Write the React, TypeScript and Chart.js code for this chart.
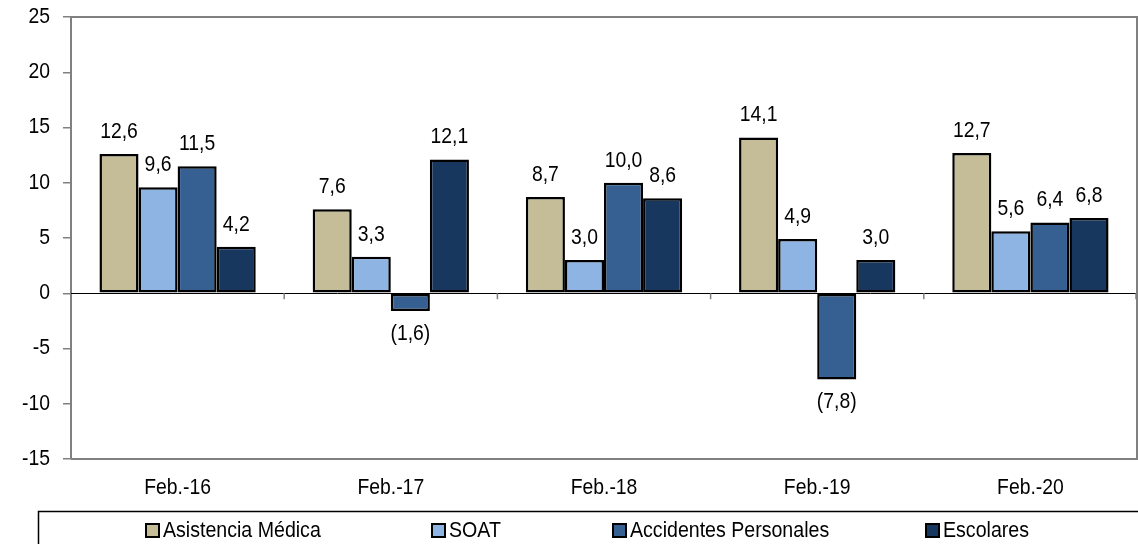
import React, { useEffect, useRef } from "react";
import { Chart, registerables } from "chart.js";

Chart.register(...registerables);

const categories = ["Feb.-16", "Feb.-17", "Feb.-18", "Feb.-19", "Feb.-20"];
const asistenciaMedica = [12.6, 7.6, 8.7, 14.1, 12.7];
const soat = [9.6, 3.3, 3.0, 4.9, 5.6];
const accidentesPersonales = [11.5, -1.6, 10.0, -7.8, 6.4];
const escolares = [4.2, 12.1, 8.6, 3.0, 6.8];
const seriesNames = ["Asistencia Médica", "SOAT", "Accidentes Personales", "Escolares"];
const seriesColors = ["#C4BD97", "#8DB4E2", "#366092", "#17375E"];
const yMin = -15;
const yMax = 25;
const yStep = 5;

const FONT = "'Liberation Sans', Arial, sans-serif";
const FSIZE = 21.5;
const SX = 0.9;

const fmt = (v: number) => {
  const s = Math.abs(v).toFixed(1).replace(".", ",");
  return v < 0 ? `(${s})` : s;
};

function drawText(ctx: any, text: string, x: number, y: number, align: string, size = FSIZE, sx = SX) {
  ctx.save();
  ctx.font = `${size}px ${FONT}`;
  ctx.textAlign = align;
  ctx.textBaseline = "middle";
  ctx.fillStyle = "#000";
  ctx.translate(x, y);
  ctx.scale(sx, 1);
  ctx.fillText(text, 0, 0);
  ctx.restore();
}

const framePlugin = {
  id: "frame",
  beforeDatasetsDraw(chart: any) {
    const { ctx, chartArea, scales } = chart;
    const y0 = scales.y.getPixelForValue(0);
    ctx.save();
    ctx.strokeStyle = "#000";
    ctx.lineWidth = 1;
    ctx.beginPath();
    ctx.moveTo(chartArea.left, Math.round(y0) + 0.5);
    ctx.lineTo(chartArea.right, Math.round(y0) + 0.5);
    ctx.stroke();
    const xs = scales.x;
    const n = categories.length;
    ctx.strokeStyle = "#808080";
    ctx.lineWidth = 1.5;
    for (let i = 1; i <= n; i++) {
      let bx: number;
      if (i === n) bx = chartArea.right - 1;
      else bx = (xs.getPixelForValue(i - 1) + xs.getPixelForValue(i)) / 2;
      ctx.beginPath();
      ctx.moveTo(bx, y0);
      ctx.lineTo(bx, y0 + 6);
      ctx.stroke();
    }
    ctx.restore();
  },
  afterDraw(chart: any) {
    const { ctx, chartArea, scales } = chart;
    ctx.save();
    ctx.strokeStyle = "#808080";
    ctx.lineWidth = 2;
    ctx.beginPath();
    ctx.moveTo(chartArea.left, chartArea.top);
    ctx.lineTo(chartArea.right, chartArea.top);
    ctx.lineTo(chartArea.right, chartArea.bottom);
    ctx.lineTo(chartArea.left, chartArea.bottom);
    ctx.stroke();
    ctx.restore();

    scales.y.ticks.forEach((t: any) => {
      drawText(ctx, String(t.value), 50, scales.y.getPixelForValue(t.value), "right");
    });
    categories.forEach((c, i) => {
      drawText(ctx, c, scales.x.getPixelForValue(i), 488, "center");
    });

    chart.data.datasets.forEach((ds: any, di: number) => {
      const meta = chart.getDatasetMeta(di);
      meta.data.forEach((bar: any, i: number) => {
        const v = ds.data[i];
        const y = v >= 0 ? bar.y - 22 : bar.y + 23;
        drawText(ctx, fmt(v), bar.x, y, "center");
      });
    });

    ctx.save();
    ctx.strokeStyle = "#000";
    ctx.lineWidth = 1.5;
    ctx.strokeRect(38.5, 511.5, 1120, 60);
    const starts = [146, 432, 613, 926];
    seriesNames.forEach((name, i) => {
      const x = starts[i];
      ctx.fillStyle = seriesColors[i];
      ctx.fillRect(x, 524, 13, 13);
      ctx.strokeStyle = "#000";
      ctx.lineWidth = 2;
      ctx.strokeRect(x, 524, 13, 13);
      drawText(ctx, name, x + 17, 531, "left", 22, 0.89);
    });
    ctx.restore();
  },
};

export default function App() {
  const ref = useRef<HTMLCanvasElement>(null);
  useEffect(() => {
    document.body.style.margin = "0";
    const seriesData = [asistenciaMedica, soat, accidentesPersonales, escolares];
    const chart = new Chart(ref.current!, {
      type: "bar",
      data: {
        labels: categories,
        datasets: seriesNames.map((name, i) => ({
          label: name,
          data: seriesData[i],
          backgroundColor: seriesColors[i],
          borderColor: "#000",
          borderWidth: 2.5,
          borderSkipped: false,
          categoryPercentage: 0.733,
          barPercentage: 1,
        })),
      },
      options: {
        animation: false,
        responsive: false,
        layout: { padding: { top: 17, right: 1, left: 0, bottom: 0 } },
        plugins: {
          legend: { display: false },
          tooltip: { enabled: false },
        },
        scales: {
          x: {
            grid: { display: false },
            border: { display: false },
            ticks: {
              color: "rgba(0,0,0,0)",
              font: { family: FONT, size: 2 },
              padding: 0,
            },
            afterFit: (s: any) => {
              s.height = 85;
            },
          },
          y: {
            min: yMin,
            max: yMax,
            grid: {
              drawOnChartArea: false,
              drawTicks: true,
              tickLength: 8,
              color: "#808080",
              lineWidth: 1.5,
            },
            border: { display: true, color: "#808080", width: 2 },
            ticks: {
              stepSize: yStep,
              color: "rgba(0,0,0,0)",
              font: { family: FONT, size: 2 },
              padding: 0,
            },
            afterFit: (s: any) => {
              s.width = 71;
            },
          },
        },
      },
      plugins: [framePlugin],
    });
    return () => chart.destroy();
  }, []);
  return (
    <div style={{ width: 1138, height: 544, position: "relative" }}>
      <canvas ref={ref} width={1138} height={544} />
    </div>
  );
}
